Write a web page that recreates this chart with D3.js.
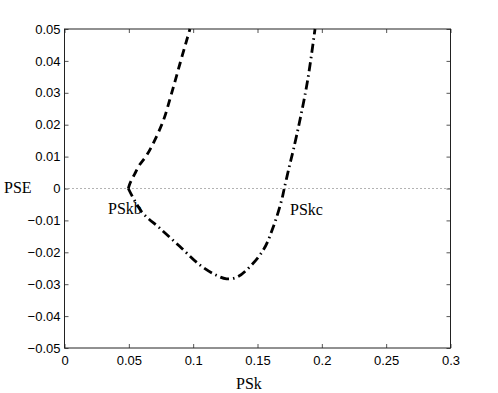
<!DOCTYPE html>
<html>
<head>
<meta charset="utf-8">
<script src="https://cdn.jsdelivr.net/npm/d3@7"></script>
<style>
  body { margin: 0; background: #fff; }
  .tick text { font-family: "Liberation Sans", Arial, sans-serif; font-size: 13px; fill: #000; }
  .lbl { font-family: "Liberation Serif", "Times New Roman", serif; font-size: 16px; fill: #000; }
</style>
</head>
<body>
<div id="chart"></div>
<script>
// values
const xTicks = [0, 0.05, 0.1, 0.15, 0.2, 0.25, 0.3];
const yTicks = [-0.05, -0.04, -0.03, -0.02, -0.01, 0, 0.01, 0.02, 0.03, 0.04, 0.05];

// dashed branch, PSkb upwards
const dashedX = [0.0496, 0.0505, 0.052, 0.0545, 0.058, 0.064, 0.070, 0.077, 0.083, 0.090, 0.0975];
const dashedY = [0, 0.0012, 0.0026, 0.0045, 0.0072, 0.0105, 0.0150, 0.0215, 0.0295, 0.0395, 0.05];

// dash-dot branch, PSkb -> minimum -> PSkc -> up
const dashDotX = [0.0496, 0.060, 0.0742, 0.0897, 0.1053, 0.118, 0.126, 0.134, 0.1416, 0.1545, 0.1623, 0.1688, 0.1708, 0.1745, 0.1778, 0.183, 0.189, 0.1947];
const dashDotY = [0, -0.0073, -0.0125, -0.0182, -0.0240, -0.0272, -0.0283, -0.0278, -0.0255, -0.0193, -0.0120, -0.0036, 0, 0.0065, 0.012, 0.0215, 0.034, 0.05];

const width = 498, height = 393;
const margin = { left: 64.5, right: 47.5, top: 29, bottom: 45 };

const svg = d3.select('#chart').append('svg')
  .attr('width', width)
  .attr('height', height);

const x = d3.scaleLinear().domain([0, 0.3]).range([margin.left, width - margin.right]);
const y = d3.scaleLinear().domain([-0.05, 0.05]).range([height - margin.bottom, margin.top]);

// zero line
svg.append('line')
  .attr('x1', x(0)).attr('x2', x(0.3))
  .attr('y1', y(0)).attr('y2', y(0))
  .attr('stroke', '#666')
  .attr('stroke-width', 1)
  .attr('stroke-dasharray', '1,3');

const fmt = d => d < 0 ? '\u2212' + String(-d) : String(d);

// axes, ticks pointing inward
svg.append('g')
  .attr('transform', `translate(0,${y(-0.05)})`)
  .call(d3.axisBottom(x).tickValues(xTicks).tickFormat(fmt).tickSizeInner(-4).tickSizeOuter(0).tickPadding(8))
  .call(g => g.select('.domain').remove())
  .call(g => g.selectAll('.tick line').attr('stroke', '#555'));

svg.append('g')
  .attr('transform', `translate(${x(0)},0)`)
  .call(d3.axisLeft(y).tickValues(yTicks).tickFormat(fmt).tickSizeInner(-4).tickSizeOuter(0).tickPadding(4))
  .call(g => g.select('.domain').remove())
  .call(g => g.selectAll('.tick line').attr('stroke', '#555'));

svg.append('g')
  .attr('transform', `translate(0,${y(0.05)})`)
  .call(d3.axisTop(x).tickValues(xTicks).tickFormat('').tickSizeInner(-4).tickSizeOuter(0))
  .call(g => g.select('.domain').remove())
  .call(g => g.selectAll('.tick line').attr('stroke', '#555'));

svg.append('g')
  .attr('transform', `translate(${x(0.3)},0)`)
  .call(d3.axisRight(y).tickValues(yTicks).tickFormat('').tickSizeInner(-4).tickSizeOuter(0))
  .call(g => g.select('.domain').remove())
  .call(g => g.selectAll('.tick line').attr('stroke', '#555'));

// box
svg.append('rect')
  .attr('x', x(0)).attr('y', y(0.05))
  .attr('width', x(0.3) - x(0)).attr('height', y(-0.05) - y(0.05))
  .attr('fill', 'none')
  .attr('stroke', '#222')
  .attr('stroke-width', 1);

const line = d3.line().x(d => x(d[0])).y(d => y(d[1])).curve(d3.curveCatmullRom);

svg.append('path')
  .datum(dashedX.map((v, i) => [v, dashedY[i]]))
  .attr('d', line)
  .attr('fill', 'none')
  .attr('stroke', '#000')
  .attr('stroke-width', 2.8)
  .attr('stroke-dasharray', '8,5');

svg.append('path')
  .datum(dashDotX.map((v, i) => [v, dashDotY[i]]))
  .attr('d', line)
  .attr('fill', 'none')
  .attr('stroke', '#000')
  .attr('stroke-width', 2.8)
  .attr('stroke-dasharray', '9,4,1.5,4');

// labels
svg.append('text').attr('class', 'lbl').attr('x', 108).attr('y', 214).text('PSkb');
svg.append('text').attr('class', 'lbl').attr('x', 290).attr('y', 215).text('PSkc');
svg.append('text').attr('class', 'lbl').attr('x', 4).attr('y', 193).text('PSE');
svg.append('text').attr('class', 'lbl').attr('x', 236).attr('y', 389).text('PSk');
</script>
</body>
</html>
